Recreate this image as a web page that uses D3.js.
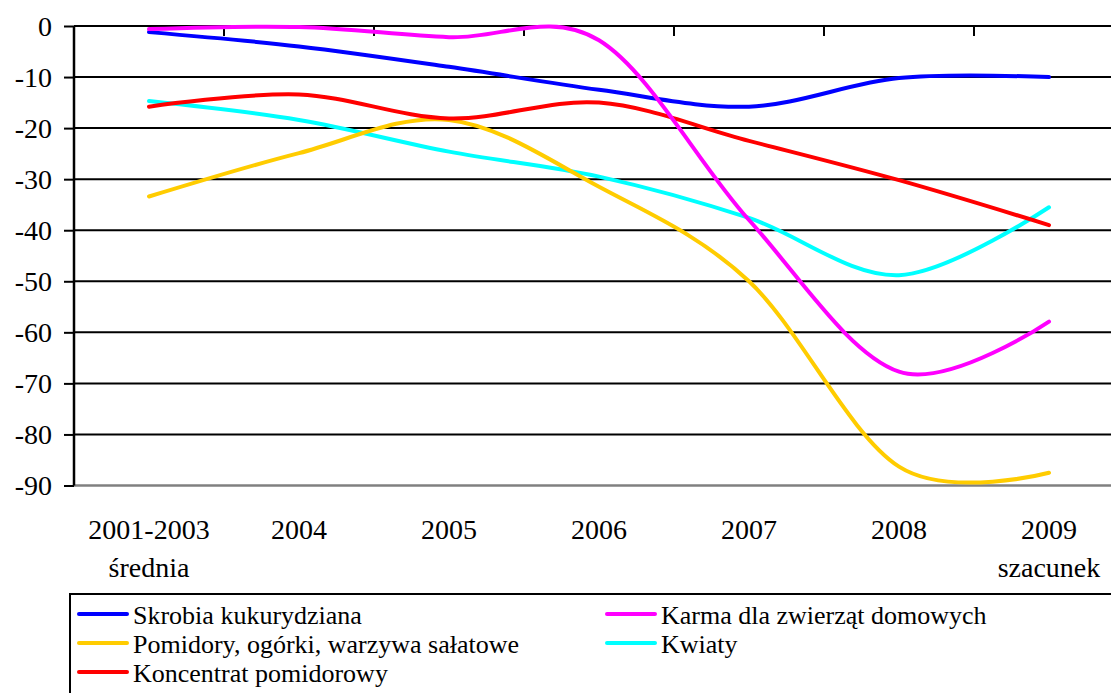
<!DOCTYPE html>
<html>
<head>
<meta charset="utf-8">
<script src="https://cdn.jsdelivr.net/npm/d3@7/dist/d3.min.js"></script>
<style>
  html, body { margin: 0; padding: 0; background: #fff; overflow: hidden; }
  svg { display: block; }
  svg text { fill: #000; }
</style>
</head>
<body>
<svg id="chart" width="1111" height="693"></svg>
<script>
//
// Data
//
const categories = ['2001-2003', '2004', '2005', '2006', '2007', '2008', '2009'];
const categorySub = ['średnia', '', '', '', '', '', 'szacunek'];
const yTicks = [0, -10, -20, -30, -40, -50, -60, -70, -80, -90];

const skrobia = [-1.2, -4.0, -8.0, -12.5, -15.8, -10.2, -10.0];
const karma = [-0.6, -0.2, -2.2, -2.8, -38.0, -67.7, -57.9];
const pomidory = [-33.4, -24.9, -18.4, -31.5, -50.0, -86.3, -87.5];
const kwiaty = [-14.7, -18.4, -24.6, -29.5, -37.6, -48.8, -35.5];
const koncentrat = [-15.8, -13.4, -18.1, -15.0, -22.5, -30.2, -39.0];

const seriesNames = [
  'Skrobia kukurydziana',
  'Karma dla zwierząt domowych',
  'Pomidory, ogórki, warzywa sałatowe',
  'Kwiaty',
  'Koncentrat pomidorowy'
];
const seriesValues = [skrobia, karma, pomidory, kwiaty, koncentrat];
const seriesColors = ['#0000ff', '#ff00ff', '#ffcc00', '#00ffff', '#ff0000'];

//
// Layout
//
const svg = d3.select('#chart');
const plotLeft = 74, plotRight = 1124, plotTop = 26, plotBottom = 485.5;
const serif = '"Liberation Serif", "Times New Roman", Times, Tinos, "Nimbus Roman", FreeSerif, "DejaVu Serif", serif';

const x = d3.scaleBand().domain(categories).range([plotLeft, plotRight]).padding(0);
const y = d3.scaleLinear().domain([-90, 0]).range([plotBottom, plotTop]);
const cx = c => x(c) + x.bandwidth() / 2;

// gridlines
svg.append('g')
  .selectAll('line')
  .data(yTicks.filter(t => t !== -90))
  .join('line')
  .attr('x1', plotLeft).attr('x2', plotRight)
  .attr('y1', d => y(d)).attr('y2', d => y(d))
  .attr('stroke', '#000').attr('stroke-width', 2);

// bottom border (gray)
svg.append('line')
  .attr('x1', plotLeft).attr('x2', plotRight)
  .attr('y1', y(-90)).attr('y2', y(-90))
  .attr('stroke', '#808080').attr('stroke-width', 2.5);

// y axis
const yAxis = svg.append('g').attr('transform', `translate(${plotLeft},0)`)
  .call(d3.axisLeft(y).tickValues(yTicks).tickSize(10).tickSizeOuter(0).tickFormat(d3.format('d')));
yAxis.attr('font-family', serif).attr('font-size', 28);
yAxis.select('.domain').attr('stroke', '#000').attr('stroke-width', 2.5)
  .attr('d', `M0,${plotTop}V${plotBottom}`);
yAxis.selectAll('.tick line').attr('stroke', '#000').attr('stroke-width', 2);
yAxis.selectAll('.tick text')
  .attr('x', -22).attr('dy', '0.33em')
  .text(d => d === 0 ? '0' : String(d));

// x ticks at category boundaries, hanging below the zero line
svg.append('g')
  .selectAll('line')
  .data(categories.slice(1))
  .join('line')
  .attr('x1', d => x(d)).attr('x2', d => x(d))
  .attr('y1', y(0)).attr('y2', y(0) + 10)
  .attr('stroke', '#000').attr('stroke-width', 2);

// x labels
const xl = svg.append('g').attr('font-family', serif).attr('font-size', 28);
xl.selectAll('text.main')
  .data(categories)
  .join('text')
  .attr('class', 'main')
  .attr('x', d => cx(d)).attr('y', 539)
  .attr('text-anchor', 'middle')
  .text(d => d);
xl.selectAll('text.sub')
  .data(categories.map((c, i) => ({c, s: categorySub[i]})).filter(d => d.s))
  .join('text')
  .attr('class', 'sub')
  .attr('x', d => cx(d.c)).attr('y', 577)
  .attr('text-anchor', 'middle')
  .text(d => d.s);

// lines
const line = d3.line()
  .x((d, i) => cx(categories[i]))
  .y(d => y(d))
  .curve(d3.curveCatmullRom.alpha(0));

// draw order so that overlaps look like the picture
const drawOrder = [3, 2, 4, 0, 1];
svg.append('g')
  .selectAll('path')
  .data(drawOrder)
  .join('path')
  .attr('d', i => line(seriesValues[i]))
  .attr('fill', 'none')
  .attr('stroke', i => seriesColors[i])
  .attr('stroke-width', 4)
  .attr('stroke-linecap', 'round');

// legend
const legend = svg.append('g').attr('font-family', serif).attr('font-size', 26);
legend.append('rect')
  .attr('x', 70).attr('y', 594)
  .attr('width', 1100).attr('height', 200)
  .attr('fill', '#fff').attr('stroke', '#000').attr('stroke-width', 2);

const legendPos = [
  {col: 0, row: 0}, {col: 1, row: 0},
  {col: 0, row: 1}, {col: 1, row: 1},
  {col: 0, row: 2}
];
const colX = [79, 607];
const rowY = [614, 643, 672];

const items = legend.selectAll('g.item')
  .data(seriesNames.map((n, i) => ({n, i})))
  .join('g')
  .attr('class', 'item')
  .attr('transform', d => `translate(${colX[legendPos[d.i].col]},${rowY[legendPos[d.i].row]})`);
items.append('line')
  .attr('x1', 0).attr('x2', 48).attr('y1', 0).attr('y2', 0)
  .attr('stroke', d => seriesColors[d.i])
  .attr('stroke-width', 4)
  .attr('stroke-linecap', 'round');
items.append('text')
  .attr('x', 54).attr('y', 10)
  .text(d => d.n);
</script>
</body>
</html>
